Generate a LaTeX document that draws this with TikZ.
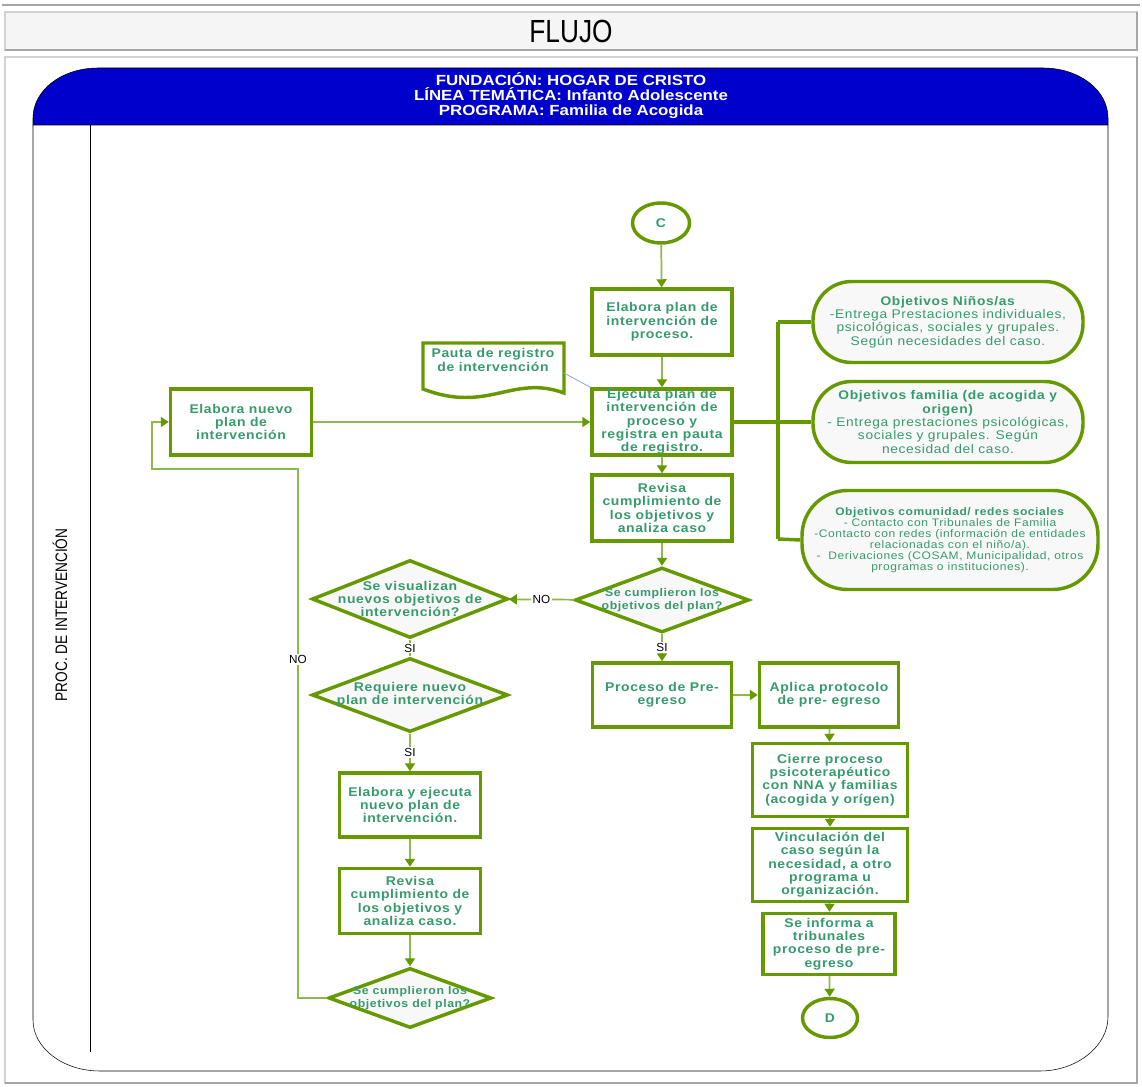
\documentclass[tikz,border=0pt]{standalone}
\usepackage{fontspec}
\setmainfont{Liberation Sans}
\newfontfamily\gfont[FakeStretch=1.1,LetterSpace=5]{Liberation Sans}
\newfontfamily\hfont[FakeStretch=1.15]{Liberation Sans}
\newfontfamily\nfont[FakeStretch=0.82]{Liberation Sans}
\usetikzlibrary{arrows.meta, shapes, positioning}

\definecolor{flowgreen}{HTML}{669900}
\definecolor{textgreen}{HTML}{369B6C}
\definecolor{linkgreen}{HTML}{8DB84A}
\definecolor{headblue}{HTML}{0000CC}
\definecolor{shapefill}{HTML}{F8F8F8}
\definecolor{notelink}{HTML}{8FA8D8}

\tikzset{
  box/.style={draw=flowgreen, line width=2.6pt, fill=white, text=textgreen,
    font=\gfont\bfseries\fontsize{9.5}{10}\selectfont, align=center, inner sep=0pt},
  dtext/.style={text=textgreen, align=center, inner sep=0pt,
    font=\gfont\bfseries\fontsize{9.5}{10}\selectfont},
  dsmall/.style={dtext, font=\gfont\bfseries\fontsize{8.4}{9.5}\selectfont},
  decision/.style={diamond, draw=flowgreen, line width=2.6pt, fill=shapefill,
    inner sep=0pt},
  connector/.style={ellipse, draw=flowgreen, line width=2.6pt, fill=white,
    text=textgreen, font=\gfont\bfseries\fontsize{9.5}{10}\selectfont, inner sep=0pt},
  goal/.style={rectangle, rounded corners=29pt, draw=flowgreen, line width=2.6pt,
    fill=shapefill, text=textgreen, align=center, inner sep=0pt,
    font=\gfont\fontsize{9.4}{10}\selectfont, minimum width=202.5pt, minimum height=60.75pt},
  link/.style={draw=linkgreen, line width=1.3pt,
    -{Triangle[width=7.5pt,length=6pt,color=flowgreen]}},
  plainlink/.style={draw=linkgreen, line width=1.3pt},
  bus/.style={draw=flowgreen, line width=2.6pt},
  lbl/.style={fill=white, text=black, inner sep=1pt, font=\fontsize{8.8}{10}\selectfont},
}

\begin{document}
\begin{tikzpicture}[x=0.75pt, y=-0.75pt]
\useasboundingbox (0,0) rectangle (1142,1087);

% frames
\draw[gray!70, line width=1.5pt] (2,5) -- (1140,5);
\draw[draw=gray!35, fill=gray!8, line width=1pt] (5,12) rectangle (1137,50);
\draw[gray!70, line width=1pt] (1137,12) -- (1137,50) -- (5,50);
\node (flujo) at (571,31) {\nfont\fontsize{24}{26}\selectfont FLUJO};
\draw[draw=gray!35, line width=1pt] (5,57) rectangle (1137,1083);
\draw[gray!70, line width=1.2pt] (1137,57) -- (1137,1083) -- (5,1083);

% pool with blue header
\draw[fill=headblue] (33,125) -- (33,118) .. controls (33,90) and (62,68) .. (98,68)
  -- (1043,68) .. controls (1079,68) and (1108,90) .. (1108,118) -- (1108,125) -- cycle;
\draw (33,125) -- (33,1020) .. controls (33,1048) and (63,1071) .. (100,1071)
  -- (1040,1071) .. controls (1077,1071) and (1108,1046) .. (1108,1017) -- (1108,125);
\draw (90,125) -- (90,1052);
\node[text=white, align=center, font=\hfont\bfseries\fontsize{11}{11.25}\selectfont] (head) at (571,96)
  {FUNDACIÓN: HOGAR DE CRISTO\\LÍNEA TEMÁTICA: Infanto Adolescente\\PROGRAMA: Familia de Acogida};
\node[rotate=90, font=\nfont\fontsize{12.5}{14}\selectfont] (lane) at (60,615) {PROC. DE INTERVENCIÓN};

% main column
\node[connector, minimum width=42.75pt, minimum height=30pt] (C) at (661,223) {C};
\node[box, minimum width=105pt, minimum height=49.5pt] (plan) at (662,322)
  {Elabora plan de\\intervención de\\proceso.};
\node[box, minimum width=105pt, minimum height=49.5pt] (ejec) at (662,422)
  {Ejecuta plan de\\intervención de\\proceso y\\registra en pauta\\de registro.};
\node[box, minimum width=105pt, minimum height=49.5pt] (revisa) at (662,508)
  {Revisa\\cumplimiento de\\los objetivos y\\analiza caso};
\node[decision, minimum width=130.5pt, minimum height=48.75pt,
  label={[dsmall]center:Se cumplieron los\\objetivos del plan?}] (cumple) at (662,600) {};
\node[box, minimum width=104.25pt, minimum height=48pt] (preegreso) at (662,695)
  {Proceso de Pre-\\egreso};
\node[box, minimum width=104.25pt, minimum height=48pt] (protocolo) at (829,695)
  {Aplica protocolo\\de pre- egreso};
\node[box, minimum width=116.25pt, minimum height=54.75pt] (cierre) at (830,780)
  {Cierre proceso\\psicoterapéutico\\con NNA y familias\\(acogida y orígen)};
\node[box, minimum width=116.25pt, minimum height=54.75pt] (vincula) at (830,865)
  {Vinculación del\\caso según la\\necesidad, a otro\\programa u\\organización.};
\node[box, minimum width=99pt, minimum height=45.75pt] (informa) at (829,944)
  {Se informa a\\tribunales\\proceso de pre-\\egreso};
\node[connector, minimum width=41.25pt, minimum height=29.25pt] (D) at (830,1018) {D};

% record sheet
\draw[draw=flowgreen, line width=2.6pt, fill=white] (423,343) -- (564,343) -- (564,393)
  .. controls (512,374) and (488,414) .. (423,389) -- cycle;
\node[dtext] (pauta) at (493,360) {Pauta de registro\\de intervención};
\coordinate (pautaR) at (564,373);

% left column
\node[box, minimum width=105.75pt, minimum height=49.5pt] (nuevo) at (241,422)
  {Elabora nuevo\\plan de\\intervención};
\node[decision, minimum width=147pt, minimum height=58.5pt,
  label={[dtext]center:Se visualizan\\nuevos objetivos de\\intervención?}] (visual) at (410,599) {};
\node[decision, minimum width=147pt, minimum height=55.5pt,
  label={[dtext]center:Requiere nuevo\\plan de intervención}] (requiere) at (410,695) {};
\node[box, minimum width=105.75pt, minimum height=48pt] (nuevo2) at (410,805)
  {Elabora y ejecuta\\nuevo plan de\\intervención.};
\node[box, minimum width=105.75pt, minimum height=48.75pt] (revisa2) at (410,901)
  {Revisa\\cumplimiento de\\los objetivos y\\analiza caso.};
\node[decision, minimum width=122.25pt, minimum height=45pt,
  label={[dsmall]center:Se cumplieron los\\objetivos del plan?}] (cumple2) at (410,998) {};

% goals
\node[goal] (obj1) at (948,322)
  {\textbf{Objetivos Niños/as}\\-Entrega Prestaciones individuales,\\psicológicas, sociales y grupales.\\Según necesidades del caso.};
\node[goal] (obj2) at (948,422)
  {\textbf{Objetivos familia (de acogida y}\\\textbf{origen)}\\- Entrega prestaciones psicológicas,\\sociales y grupales. Según\\necesidad del caso.};
\node[goal, minimum width=222pt, minimum height=74.25pt, rounded corners=34pt,
  font=\gfont\fontsize{8.2}{8.3}\selectfont] (obj3) at (950,540)
  {\textbf{Objetivos comunidad/ redes sociales}\\- Contacto con Tribunales de Familia\\-Contacto con redes (información de entidades\\relacionadas con el niño/a).\\-\ \ Derivaciones (COSAM, Municipalidad, otros\\programas o instituciones).};

% connectors
\draw[link] (C) -- (plan);
\draw[link] (plan) -- (ejec);
\draw[link] (ejec) -- (revisa);
\draw[link] (revisa) -- (cumple);
\draw[link] (cumple) -- node[lbl]{NO} (visual);
\draw[link] (cumple) -- node[lbl]{SI} (preegreso);
\draw[link] (preegreso) -- (protocolo);
\draw[link] (protocolo) -- (cierre);
\draw[link] (cierre) -- (vincula);
\draw[link] (vincula) -- (informa);
\draw[link] (informa) -- (D);
\draw[plainlink] (visual) -- node[lbl]{SI} (requiere);
\draw[link] (requiere) -- node[lbl]{SI} (nuevo2);
\draw[link] (nuevo2) -- (revisa2);
\draw[link] (revisa2) -- (cumple2);
\coordinate (loopA) at (298,469);
\coordinate (loopB) at (152,469);
\draw[link] (cumple2.west) -| node[lbl, pos=0.82]{NO} (loopA) -- (loopB) |- (nuevo.west);
\draw[link] (nuevo) -- (ejec);
\draw[notelink, line width=0.6pt] (pautaR) -- (ejec.north west);

% goal bus
\coordinate (busT) at (778,322);
\coordinate (busB) at (778,539);
\draw[bus] (ejec.east) -- (ejec.east -| busT);
\draw[bus] (busT) -- (busB);
\draw[bus] (busT) -- (obj1.west);
\draw[bus] (ejec.east -| busT) -- (obj2.west);
\draw[bus] (busB) -- (obj3.west);
\end{tikzpicture}
\end{document}
